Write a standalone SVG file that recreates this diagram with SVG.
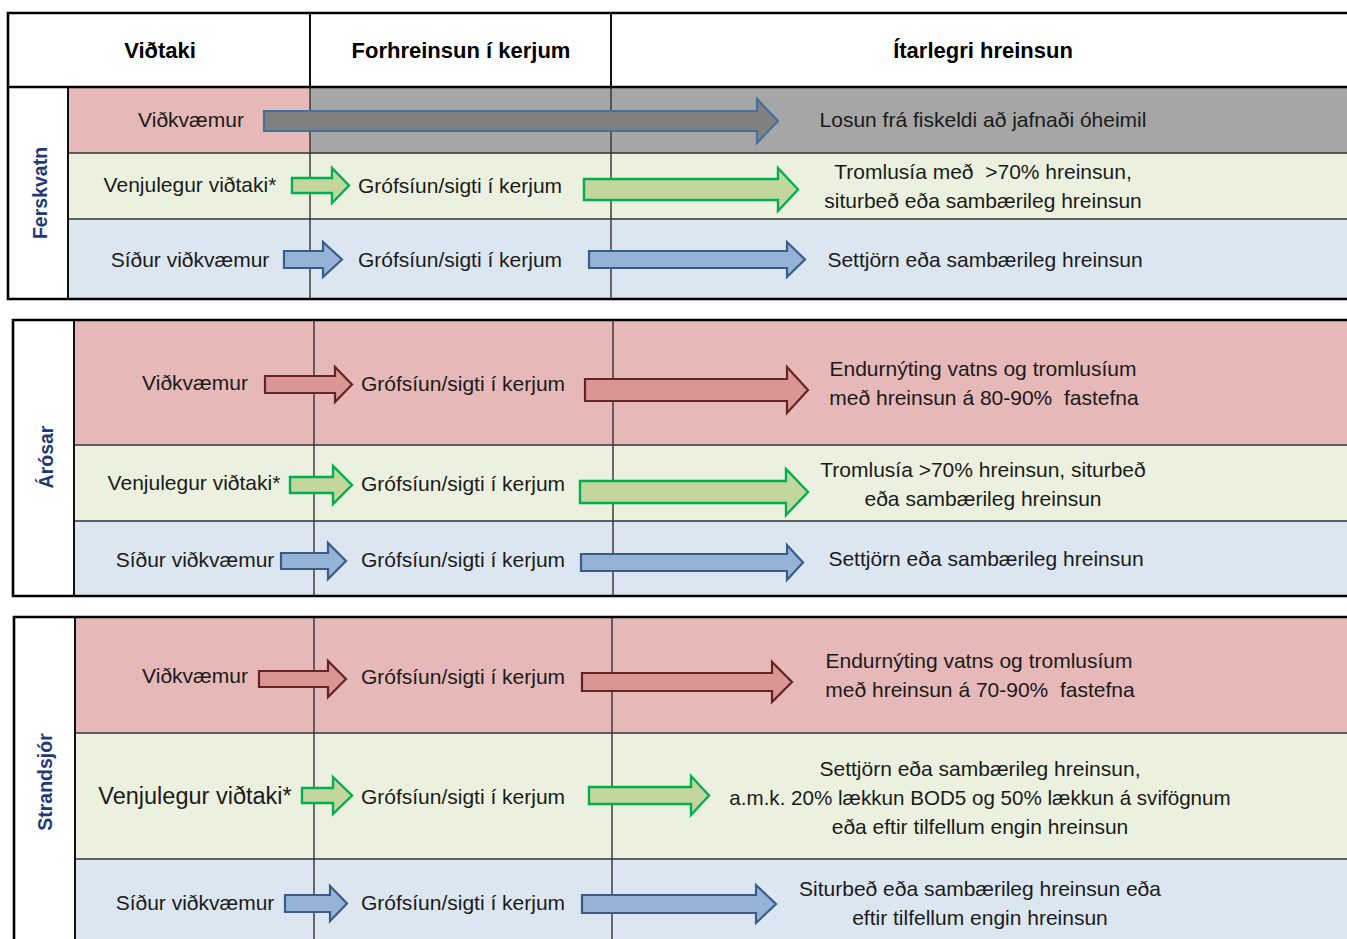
<svg xmlns="http://www.w3.org/2000/svg" width="1347" height="939" viewBox="0 0 1347 939">
<style>
text{font-family:"Liberation Sans","DejaVu Sans",sans-serif;fill:#1a1a1a;font-size:21px;text-anchor:middle}
.h{font-weight:bold;font-size:22px;fill:#000}
.v{font-weight:bold;font-size:19.5px;fill:#1F3A78}
.pink{fill:#E6B8B7}.gray{fill:#A6A6A6}.green{fill:#EBF1DE}.blue{fill:#DCE6F1}.white{fill:#fff}
.thick{stroke:#000;stroke-width:2.6;fill:none}
.mid{stroke:#111;stroke-width:2;fill:none}
.thin{stroke:#333;stroke-width:1.4;fill:none}
.ag{fill:#808080;stroke:#41719C;stroke-width:2.2}
.ar{fill:#DA9694;stroke:#632523;stroke-width:2.2}
.agr{fill:#C3D69B;stroke:#00B050;stroke-width:2.4}
.ab{fill:#95B3D7;stroke:#385D8A;stroke-width:2.2}
</style>
<rect width="1347" height="939" fill="#fff"/>

<g id="section-ferskvatn">
<rect class="white" x="8" y="13" width="1340" height="286"/>
<rect class="pink" x="68" y="87" width="242" height="66"/>
<rect class="gray" x="310" y="87" width="1038" height="66"/>
<rect class="green" x="68" y="153" width="1280" height="66"/>
<rect class="blue" x="68" y="219" width="1280" height="80"/>
<path class="thin" d="M68 153H1348M68 219H1348M310 87V299M611 87V299"/>
<path class="mid" d="M310 13V87M611 13V87M68 87V299"/>
<path class="thick" d="M1348 13H8V299H1348M8 87H1348"/>
</g>

<g id="section-arosar">
<rect class="white" x="13" y="320" width="61" height="276"/>
<rect class="pink" x="74" y="320" width="1274" height="125"/>
<rect class="green" x="74" y="445" width="1274" height="76"/>
<rect class="blue" x="74" y="521" width="1274" height="75"/>
<path class="thin" d="M74 445H1348M74 521H1348M314 320V596M613 320V596"/>
<path class="mid" d="M74 320V596"/>
<path class="thick" d="M1348 320H13V596H1348"/>
</g>

<g id="section-strandsjor">
<rect class="white" x="14" y="617" width="61" height="330"/>
<rect class="pink" x="75" y="617" width="1273" height="116"/>
<rect class="green" x="75" y="733" width="1273" height="126"/>
<rect class="blue" x="75" y="859" width="1273" height="90"/>
<path class="thin" d="M75 733H1348M75 859H1348M314 617V945M612 617V945"/>
<path class="mid" d="M75 617V945"/>
<path class="thick" d="M1348 617H14V945"/>
</g>

<g id="connectors">
<polygon class="ag" points="264,111 757,111 757,99 778,121 757,143 757,131 264,131"/>
<polygon class="agr" points="292,178 332,178 332,168 349,185.5 332,203 332,193 292,193"/>
<polygon class="agr" points="584,179 778,179 778,168 798,189.5 778,211 778,200 584,200"/>
<polygon class="ab" points="284,251 323,251 323,242 342,259.5 323,277 323,268 284,268"/>
<polygon class="ab" points="589,251 787,251 787,242 805,259.5 787,277 787,268 589,268"/>

<polygon class="ar" points="265,376 335,376 335,367 352,384.5 335,402 335,393 265,393"/>
<polygon class="ar" points="585,379 787,379 787,367 808,390 787,413 787,401 585,401"/>
<polygon class="agr" points="290,477 333,477 333,466 352,485 333,504 333,493 290,493"/>
<polygon class="agr" points="580,481 786,481 786,469 808,492 786,515 786,503 580,503"/>
<polygon class="ab" points="281,553 328,553 328,543 346,561 328,579 328,569 281,569"/>
<polygon class="ab" points="581,554 787,554 787,545 803,562.5 787,580 787,571 581,571"/>

<polygon class="ar" points="259,671 328,671 328,661 346,679 328,697 328,687 259,687"/>
<polygon class="ar" points="582,673 772,673 772,662 792,682 772,702 772,691 582,691"/>
<polygon class="agr" points="302,788 333,788 333,777 352,795.5 333,814 333,803 302,803"/>
<polygon class="agr" points="589,787 691,787 691,776 709,795.5 691,815 691,804 589,804"/>
<polygon class="ab" points="285,895 330,895 330,886 347,903.5 330,921 330,912 285,912"/>
<polygon class="ab" points="582,895 756,895 756,885 776,904 756,923 756,913 582,913"/>
</g>

<g id="header">
<text class="h" x="160" y="58">Viðtaki</text>
<text class="h" x="461" y="58">Forhreinsun í kerjum</text>
<text class="h" x="983" y="58">Ítarlegri hreinsun</text>
</g>

<g id="labels-ferskvatn">
<text class="v" transform="translate(47,193) rotate(-90)">Ferskvatn</text>
<text x="191" y="127">Viðkvæmur</text>
<text x="983" y="127">Losun frá fiskeldi að jafnaði óheimil</text>
<text x="190" y="192">Venjulegur viðtaki*</text>
<text x="460" y="193">Grófsíun/sigti í kerjum</text>
<text x="983" y="179" xml:space="preserve">Tromlusía með  &gt;70% hreinsun,</text>
<text x="983" y="208">siturbeð eða sambærileg hreinsun</text>
<text x="190" y="267">Síður viðkvæmur</text>
<text x="460" y="267">Grófsíun/sigti í kerjum</text>
<text x="985" y="267">Settjörn eða sambærileg hreinsun</text>
</g>

<g id="labels-arosar">
<text class="v" transform="translate(53,457) rotate(-90)">Árósar</text>
<text x="195" y="390">Viðkvæmur</text>
<text x="463" y="391">Grófsíun/sigti í kerjum</text>
<text x="983" y="376">Endurnýting vatns og tromlusíum</text>
<text x="984" y="405" xml:space="preserve">með hreinsun á 80-90%  fastefna</text>
<text x="194" y="490">Venjulegur viðtaki*</text>
<text x="463" y="491">Grófsíun/sigti í kerjum</text>
<text x="983" y="477">Tromlusía &gt;70% hreinsun, siturbeð</text>
<text x="983" y="506">eða sambærileg hreinsun</text>
<text x="195" y="567">Síður viðkvæmur</text>
<text x="463" y="567">Grófsíun/sigti í kerjum</text>
<text x="986" y="566">Settjörn eða sambærileg hreinsun</text>
</g>

<g id="labels-strandsjor">
<text class="v" transform="translate(52,782) rotate(-90)">Strandsjór</text>
<text x="195" y="683">Viðkvæmur</text>
<text x="463" y="684">Grófsíun/sigti í kerjum</text>
<text x="979" y="668">Endurnýting vatns og tromlusíum</text>
<text x="980" y="697" xml:space="preserve">með hreinsun á 70-90%  fastefna</text>
<text x="195" y="804" style="font-size:23.5px">Venjulegur viðtaki*</text>
<text x="463" y="804">Grófsíun/sigti í kerjum</text>
<text x="980" y="776">Settjörn eða sambærileg hreinsun,</text>
<text x="980" y="805" style="font-size:20.6px">a.m.k. 20% lækkun BOD5 og 50% lækkun á svifögnum</text>
<text x="980" y="834">eða eftir tilfellum engin hreinsun</text>
<text x="195" y="910">Síður viðkvæmur</text>
<text x="463" y="910">Grófsíun/sigti í kerjum</text>
<text x="980" y="896">Siturbeð eða sambærileg hreinsun eða</text>
<text x="980" y="925">eftir tilfellum engin hreinsun</text>
</g>
</svg>
